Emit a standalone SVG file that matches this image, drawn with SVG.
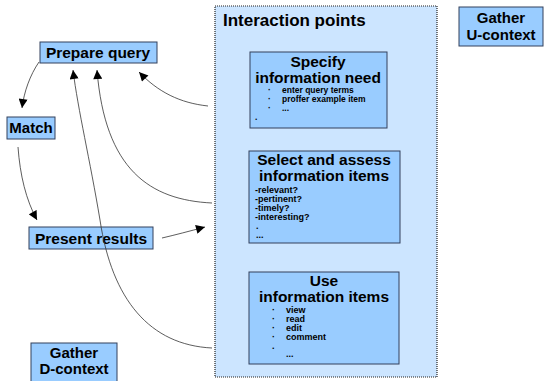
<svg xmlns="http://www.w3.org/2000/svg" width="544" height="381" viewBox="0 0 544 381">
<defs>
<style>
.node{fill:#99ccff;stroke:#33415c;stroke-width:1}
.t{font-family:"Liberation Sans",Arial,sans-serif;font-weight:bold;fill:#000}
.c{stroke:#333;stroke-width:0.8;fill:none;marker-end:url(#ah)}
</style>
<marker id="ah" viewBox="0 0 10 10" refX="10" refY="5" markerWidth="10" markerHeight="9" markerUnits="userSpaceOnUse" orient="auto">
<path d="M0,0 L10,5 L0,10 z" fill="#000"/>
</marker>
</defs>
<rect width="544" height="381" fill="#fff"/>
<g id="interaction-points">
<rect x="215" y="6" width="222" height="371" fill="#cce5ff" stroke="#222" stroke-width="1.2" stroke-dasharray="1,1"/>
<text class="t" x="223" y="26" font-size="17">Interaction points</text>
</g>
<g id="specify">
<rect class="node" x="250" y="52" width="137" height="76"/>
<text class="t" x="318" y="67" font-size="15.5" text-anchor="middle">Specify</text>
<text class="t" x="318" y="83" font-size="15.5" text-anchor="middle">information need</text>
<g font-size="8.5" class="t">
<text x="268" y="93">·</text><text x="282" y="93">enter query terms</text>
<text x="268" y="102">·</text><text x="282" y="102">proffer example item</text>
<text x="268" y="111">·</text><text x="282" y="111">...</text>
<text x="255" y="120">.</text>
</g>
</g>
<g id="select">
<rect class="node" x="249" y="151" width="151" height="92"/>
<text class="t" x="324" y="165" font-size="15.5" text-anchor="middle">Select and assess</text>
<text class="t" x="324" y="181" font-size="15.5" text-anchor="middle">information items</text>
<g font-size="9" class="t">
<text x="255" y="193">-relevant?</text>
<text x="255" y="202">-pertinent?</text>
<text x="255" y="211">-timely?</text>
<text x="255" y="220">-interesting?</text>
<text x="256" y="229">.</text>
<text x="256" y="238">...</text>
</g>
</g>
<g id="use">
<rect class="node" x="249" y="272" width="150" height="92"/>
<text class="t" x="324" y="286" font-size="15.5" text-anchor="middle">Use</text>
<text class="t" x="324" y="302" font-size="15.5" text-anchor="middle">information items</text>
<g font-size="9" class="t">
<text x="272" y="313">·</text><text x="286" y="313">view</text>
<text x="272" y="322">·</text><text x="286" y="322">read</text>
<text x="272" y="331">·</text><text x="286" y="331">edit</text>
<text x="272" y="340">·</text><text x="286" y="340">comment</text>
<text x="272" y="349">.</text>
<text x="286" y="357">...</text>
</g>
</g>
<g id="prepare-query">
<rect class="node" x="40" y="42" width="117" height="21"/>
<text class="t" x="98" y="58" font-size="15.5" text-anchor="middle">Prepare query</text>
</g>
<g id="match">
<rect class="node" x="7" y="117" width="48" height="22"/>
<text class="t" x="31" y="133" font-size="15" text-anchor="middle">Match</text>
</g>
<g id="present-results">
<rect class="node" x="29" y="227" width="124" height="22"/>
<text class="t" x="91" y="244" font-size="15.5" text-anchor="middle">Present results</text>
</g>
<g id="gather-d">
<rect class="node" x="31" y="343" width="86" height="42"/>
<text class="t" x="74" y="358" font-size="15" text-anchor="middle">Gather</text>
<text class="t" x="74" y="374" font-size="15" text-anchor="middle">D-context</text>
</g>
<g id="gather-u">
<rect class="node" x="459" y="7" width="84" height="39"/>
<text class="t" x="501" y="23" font-size="15" text-anchor="middle">Gather</text>
<text class="t" x="501" y="40" font-size="15" text-anchor="middle">U-context</text>
</g>
<g id="connectors">
<path class="c" d="M39,62 C30,75 24,92 22,108"/>
<path class="c" d="M18,147 C20,175 26,200 37,220"/>
<path class="c" d="M162,238 C175,235 190,231 205,227"/>
<path class="c" d="M208,106 C180,103 158,92 139,72"/>
<path class="c" d="M212,203 C150,200 105,170 97,70"/>
<path class="c" d="M212,348 C150,345 112,300 100,220 C90,160 78,110 73,70"/>
</g>
</svg>
